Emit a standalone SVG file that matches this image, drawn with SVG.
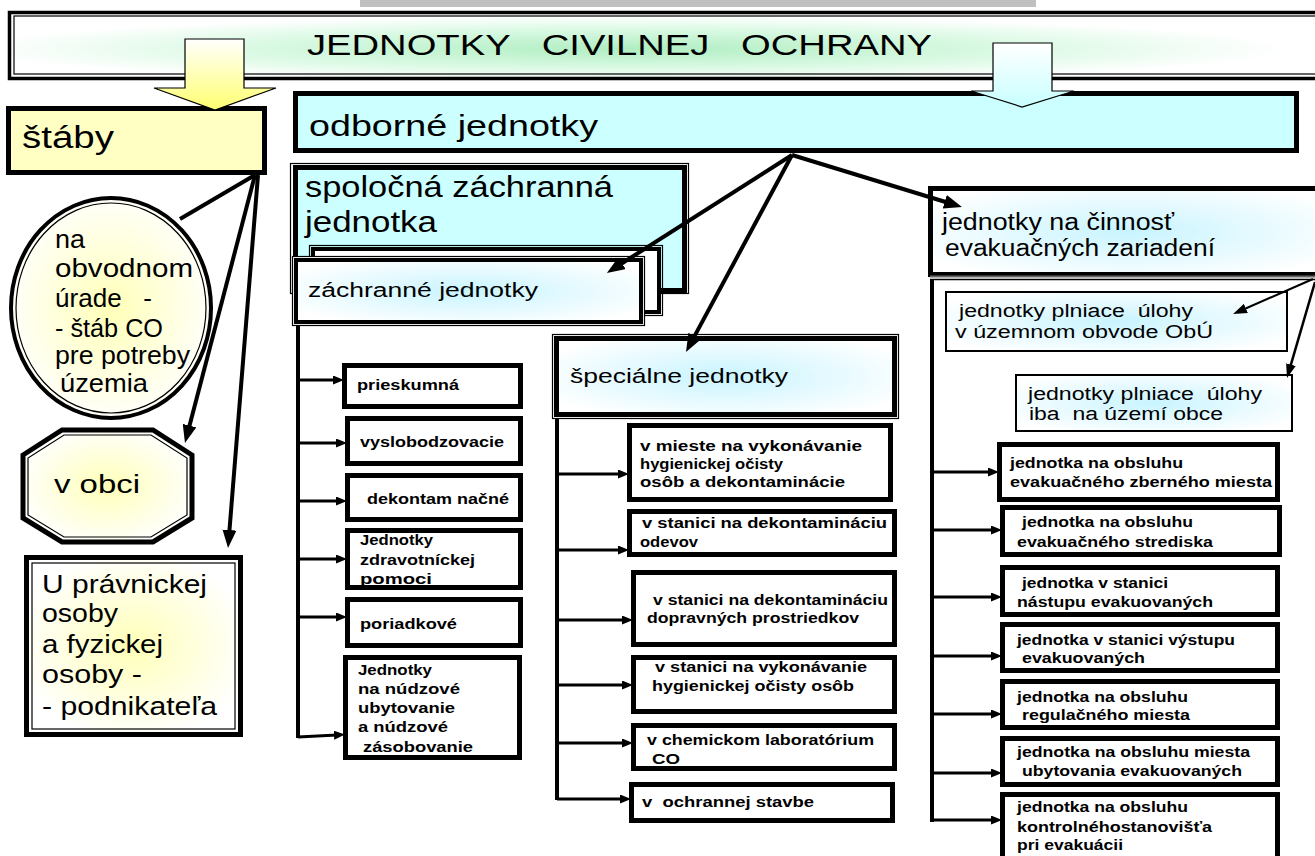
<svg xmlns="http://www.w3.org/2000/svg" width="1315" height="856" viewBox="0 0 1315 856">
<style>
text{font-family:"Liberation Sans",Arial,sans-serif;fill:#000}
.b{font-weight:bold;font-size:14px}
.r{font-weight:bold;font-size:15px}
.box{fill:#fff;stroke:#000;stroke-width:5}
.thin{fill:none;stroke:#000;stroke-width:1.2}
.ln{stroke:#000;stroke-width:4;fill:none}
.br{stroke:#000;stroke-width:3;fill:none;marker-end:url(#as)}
.big{marker-end:url(#ah)}
</style>
<defs>
<marker id="ah" markerUnits="userSpaceOnUse" markerWidth="18" markerHeight="14" refX="6" refY="7" orient="auto"><path d="M0,0 L18,7 L0,14 z" fill="#000"/></marker>
<marker id="am" markerUnits="userSpaceOnUse" markerWidth="14" markerHeight="10" refX="4" refY="5" orient="auto"><path d="M0,0 L14,5 L0,10 z" fill="#000"/></marker>
<marker id="as" markerUnits="userSpaceOnUse" markerWidth="11" markerHeight="9" refX="3" refY="4.5" orient="auto"><path d="M0,0 L11,4.5 L0,9 z" fill="#000"/></marker>
<radialGradient id="gTitle" cx="0.47" cy="0.55" r="0.5"><stop offset="0" stop-color="#b0eec2"/><stop offset="0.55" stop-color="#d8f9e2"/><stop offset="1" stop-color="#ffffff"/></radialGradient>
<radialGradient id="gYel" cx="0.5" cy="0.5" r="0.55"><stop offset="0" stop-color="#ffffb8"/><stop offset="1" stop-color="#ffffff"/></radialGradient>
<radialGradient id="gCy" cx="0.5" cy="0.5" r="0.6"><stop offset="0" stop-color="#c8f4ff"/><stop offset="1" stop-color="#ffffff"/></radialGradient>
<linearGradient id="gYA" x1="0" y1="0" x2="0" y2="1"><stop offset="0" stop-color="#ffffff"/><stop offset="1" stop-color="#ffff70"/></linearGradient>
<linearGradient id="gBA" x1="0" y1="0" x2="0" y2="1"><stop offset="0" stop-color="#ffffff"/><stop offset="1" stop-color="#c8ffff"/></linearGradient>
</defs>

<rect x="360" y="0" width="676" height="7" fill="#c0c0c0"/>

<g id="title">
<rect x="9.5" y="12.5" width="1320" height="66" fill="url(#gTitle)" stroke="#000" stroke-width="3.5"/>
<rect x="14" y="16" width="1310" height="58" class="thin"/>
<text x="307" y="55" font-size="30" textLength="625" lengthAdjust="spacingAndGlyphs" xml:space="preserve">JEDNOTKY   CIVILNEJ   OCHRANY</text>
</g>

<g id="staby">
<rect x="8.5" y="108.5" width="256" height="64" fill="#ffffc4" stroke="#000" stroke-width="5"/>
<text x="22" y="148" font-size="31" textLength="92" lengthAdjust="spacingAndGlyphs">štáby</text>
</g>
<polygon id="arrow-staby" points="185,39 244,39 244,88 276,88 215,110 154,88 185,88" fill="url(#gYA)" stroke="#000" stroke-width="1.2"/>

<g id="odborne">
<rect x="295.5" y="93.5" width="1001" height="57" fill="#ccffff" stroke="#000" stroke-width="5"/>
<text x="309" y="136" font-size="30" textLength="289" lengthAdjust="spacingAndGlyphs">odborné jednotky</text>
</g>
<polygon id="arrow-odborne" points="993,43 1052,43 1052,91 1074,91 1022,107 971,91 993,91" fill="url(#gBA)" stroke="#000" stroke-width="1.2"/>

<g id="obvodny">
<ellipse cx="111" cy="308" rx="100" ry="110" fill="url(#gYel)" stroke="#000" stroke-width="4"/>
<ellipse cx="111" cy="308" rx="95" ry="105" class="thin"/>
<text font-size="25">
<tspan x="55" y="248" textLength="30" lengthAdjust="spacingAndGlyphs">na</tspan>
<tspan x="55" y="277" textLength="138" lengthAdjust="spacingAndGlyphs">obvodnom</tspan>
</text>
<text x="55" y="307" font-size="25" textLength="97" lengthAdjust="spacingAndGlyphs" xml:space="preserve">úrade   -</text>
<text font-size="25">
<tspan x="55" y="337" textLength="108" lengthAdjust="spacingAndGlyphs">- štáb CO</tspan>
<tspan x="55" y="364" textLength="135" lengthAdjust="spacingAndGlyphs">pre potreby</tspan>
<tspan x="60" y="392" textLength="88" lengthAdjust="spacingAndGlyphs">územia</tspan>
</text>
</g>

<g id="obec">
<polygon points="62,430 153,430 192,455 192,518 153,542 62,542 23,518 23,455" fill="url(#gYel)" stroke="#000" stroke-width="5"/>
<polygon points="64,435 151,435 187,458 187,515 151,537 64,537 28,515 28,458" class="thin"/>
<text x="54" y="493" font-size="26" textLength="86" lengthAdjust="spacingAndGlyphs">v obci</text>
</g>

<g id="pravnicka">
<rect x="26.5" y="557.5" width="214" height="177" fill="url(#gYel)" stroke="#000" stroke-width="5"/>
<rect x="32" y="563" width="203" height="166" class="thin"/>
<text font-size="25">
<tspan x="42" y="593" textLength="165" lengthAdjust="spacingAndGlyphs">U právnickej</tspan>
<tspan x="42" y="622" textLength="76" lengthAdjust="spacingAndGlyphs">osoby</tspan>
<tspan x="42" y="653" textLength="121" lengthAdjust="spacingAndGlyphs">a fyzickej</tspan>
<tspan x="42" y="683" textLength="100" lengthAdjust="spacingAndGlyphs">osoby -</tspan>
<tspan x="42" y="715" textLength="175" lengthAdjust="spacingAndGlyphs">- podnikateľa</tspan>
</text>
</g>

<g id="spolocna">
<rect x="290.5" y="163.5" width="398" height="130" class="thin"/>
<rect x="295.5" y="167.5" width="389" height="123" fill="#ccffff" stroke="#000" stroke-width="5"/>
<text font-size="29">
<tspan x="305" y="197" textLength="308" lengthAdjust="spacingAndGlyphs">spoločná záchranná</tspan>
<tspan x="305" y="232" textLength="132" lengthAdjust="spacingAndGlyphs">jednotka</tspan>
</text>
</g>

<g id="zachranne">
<rect x="309.5" y="245.5" width="353" height="70" class="thin"/>
<rect x="313" y="249" width="346" height="63" fill="#fff" stroke="#000" stroke-width="4"/>
<rect x="292.5" y="256.5" width="352" height="69" fill="#fff" stroke="#000" stroke-width="1.2"/>
<rect x="296" y="260" width="345" height="62" fill="url(#gCy)" stroke="#000" stroke-width="4"/>
<text x="308" y="297" font-size="20" textLength="230" lengthAdjust="spacingAndGlyphs">záchranné jednotky</text>
</g>

<g id="z-prieskumna"><rect class="box" x="344.5" y="365.5" width="176" height="41"/>
<text class="b" x="357" y="390" textLength="102" lengthAdjust="spacingAndGlyphs">prieskumná</text></g>
<g id="z-vyslobodzovacie"><rect class="box" x="347.5" y="418.5" width="173" height="45"/>
<text class="b" x="360" y="447" textLength="144" lengthAdjust="spacingAndGlyphs">vyslobodzovacie</text></g>
<g id="z-dekontaminacne"><rect class="box" x="347.5" y="475.5" width="173" height="44"/>
<text class="b" x="367" y="504" textLength="142" lengthAdjust="spacingAndGlyphs">dekontam načné</text></g>
<g id="z-zdravotnicke"><rect class="box" x="347.5" y="530.5" width="173" height="57"/>
<text class="b"><tspan x="360" y="545" textLength="73" lengthAdjust="spacingAndGlyphs">Jednotky</tspan>
<tspan x="360" y="565" textLength="115" lengthAdjust="spacingAndGlyphs">zdravotníckej</tspan>
<tspan x="360" y="584" textLength="72" lengthAdjust="spacingAndGlyphs">pomoci</tspan></text></g>
<g id="z-poriadkove"><rect class="box" x="347.5" y="599.5" width="173" height="46"/>
<text class="b" x="360" y="629" textLength="97" lengthAdjust="spacingAndGlyphs">poriadkové</text></g>
<g id="z-nudzove"><rect class="box" x="345.5" y="657.5" width="174" height="100"/>
<text class="b"><tspan x="358" y="675" textLength="74" lengthAdjust="spacingAndGlyphs">Jednotky</tspan>
<tspan x="358" y="694" textLength="102" lengthAdjust="spacingAndGlyphs">na núdzové</tspan>
<tspan x="358" y="713" textLength="97" lengthAdjust="spacingAndGlyphs">ubytovanie</tspan>
<tspan x="358" y="732" textLength="90" lengthAdjust="spacingAndGlyphs">a núdzové</tspan>
<tspan x="363" y="752" textLength="110" lengthAdjust="spacingAndGlyphs">zásobovanie</tspan></text></g>

<g id="specialne">
<rect x="552.5" y="334.5" width="346" height="84" class="thin"/>
<rect x="556.5" y="338.5" width="338" height="76" fill="url(#gCy)" stroke="#000" stroke-width="5"/>
<text x="570" y="383" font-size="21" textLength="218" lengthAdjust="spacingAndGlyphs">špeciálne jednotky</text>
</g>

<g id="s-miesto"><rect class="box" x="629.5" y="425.5" width="261" height="74"/>
<text class="b"><tspan x="640" y="451" textLength="222" lengthAdjust="spacingAndGlyphs">v mieste na vykonávanie</tspan>
<tspan x="640" y="469" textLength="143" lengthAdjust="spacingAndGlyphs">hygienickej očisty</tspan>
<tspan x="640" y="487" textLength="205" lengthAdjust="spacingAndGlyphs">osôb a dekontaminácie</tspan></text></g>
<g id="s-odevov"><rect class="box" x="629.5" y="511.5" width="265" height="43"/>
<text class="b"><tspan x="642" y="528" textLength="245" lengthAdjust="spacingAndGlyphs">v stanici na dekontamináciu</tspan>
<tspan x="640" y="547" textLength="58" lengthAdjust="spacingAndGlyphs">odevov</tspan></text></g>
<g id="s-doprava"><rect class="box" x="633.5" y="572.5" width="261" height="72"/>
<text class="b"><tspan x="653" y="605" textLength="235" lengthAdjust="spacingAndGlyphs">v stanici na dekontamináciu</tspan>
<tspan x="647" y="623" textLength="212" lengthAdjust="spacingAndGlyphs">dopravných prostriedkov</tspan></text></g>
<g id="s-hygiena"><rect class="box" x="633.5" y="657.5" width="261" height="54"/>
<text class="b"><tspan x="655" y="672" textLength="212" lengthAdjust="spacingAndGlyphs">v stanici na vykonávanie</tspan>
<tspan x="652" y="691" textLength="202" lengthAdjust="spacingAndGlyphs">hygienickej očisty osôb</tspan></text></g>
<g id="s-laboratorium"><rect class="box" x="633.5" y="725.5" width="261" height="43"/>
<text class="b"><tspan x="647" y="745" textLength="227" lengthAdjust="spacingAndGlyphs">v chemickom laboratórium</tspan>
<tspan x="652" y="764" textLength="28" lengthAdjust="spacingAndGlyphs">CO</tspan></text></g>
<g id="s-stavba"><rect class="box" x="631.5" y="784.5" width="261" height="36"/>
<text class="b" x="642" y="807" textLength="172" lengthAdjust="spacingAndGlyphs" xml:space="preserve">v  ochrannej stavbe</text></g>

<g id="evakuacne">
<rect x="930.5" y="188.5" width="400" height="86" fill="url(#gCy)" stroke="#000" stroke-width="5"/>
<line x1="930" y1="276.5" x2="1315" y2="276.5" stroke="#666" stroke-width="2"/>
<line x1="930" y1="279.5" x2="1315" y2="279.5" stroke="#000" stroke-width="1.5"/>
<text font-size="23"><tspan x="942" y="230" textLength="232" lengthAdjust="spacingAndGlyphs">jednotky na činnosť</tspan>
<tspan x="945" y="256" textLength="270" lengthAdjust="spacingAndGlyphs">evakuačných zariadení</tspan></text>
</g>

<g id="e-obu"><rect x="946" y="292" width="341" height="59" fill="url(#gCy)" stroke="#000" stroke-width="2"/>
<text font-size="18"><tspan x="959" y="317" textLength="234" lengthAdjust="spacingAndGlyphs" xml:space="preserve">jednotky plniace  úlohy</tspan>
<tspan x="955" y="338" textLength="258" lengthAdjust="spacingAndGlyphs">v územnom obvode ObÚ</tspan></text></g>
<g id="e-obec"><rect x="1016" y="375" width="276" height="56" fill="url(#gCy)" stroke="#000" stroke-width="2"/>
<text font-size="18"><tspan x="1028" y="400" textLength="234" lengthAdjust="spacingAndGlyphs" xml:space="preserve">jednotky plniace  úlohy</tspan>
<tspan x="1029" y="420" textLength="194" lengthAdjust="spacingAndGlyphs" xml:space="preserve">iba  na území obce</tspan></text></g>

<g id="e-zberne"><rect class="box" x="999.5" y="444.5" width="278" height="55"/>
<text class="r"><tspan x="1010" y="468" textLength="173" lengthAdjust="spacingAndGlyphs">jednotka na obsluhu</tspan>
<tspan x="1010" y="487" textLength="262" lengthAdjust="spacingAndGlyphs">evakuačného zberného miesta</tspan></text></g>
<g id="e-stredisko"><rect class="box" x="1002.5" y="507.5" width="277" height="47"/>
<text class="r"><tspan x="1022" y="527" textLength="171" lengthAdjust="spacingAndGlyphs">jednotka na obsluhu</tspan>
<tspan x="1017" y="547" textLength="196" lengthAdjust="spacingAndGlyphs">evakuačného strediska</tspan></text></g>
<g id="e-nastup"><rect class="box" x="1002.5" y="567.5" width="275" height="47"/>
<text class="r"><tspan x="1022" y="588" textLength="146" lengthAdjust="spacingAndGlyphs">jednotka v stanici</tspan>
<tspan x="1017" y="607" textLength="196" lengthAdjust="spacingAndGlyphs">nástupu evakuovaných</tspan></text></g>
<g id="e-vystup"><rect class="box" x="1002.5" y="624.5" width="275" height="46"/>
<text class="r"><tspan x="1017" y="645" textLength="218" lengthAdjust="spacingAndGlyphs">jednotka v stanici výstupu</tspan>
<tspan x="1022" y="663" textLength="123" lengthAdjust="spacingAndGlyphs">evakuovaných</tspan></text></g>
<g id="e-regulacne"><rect class="box" x="1002.5" y="681.5" width="275" height="46"/>
<text class="r"><tspan x="1017" y="702" textLength="171" lengthAdjust="spacingAndGlyphs">jednotka na obsluhu</tspan>
<tspan x="1022" y="720" textLength="168" lengthAdjust="spacingAndGlyphs">regulačného miesta</tspan></text></g>
<g id="e-ubytovanie"><rect class="box" x="1002.5" y="738.5" width="275" height="46"/>
<text class="r"><tspan x="1017" y="757" textLength="233" lengthAdjust="spacingAndGlyphs">jednotka na obsluhu miesta</tspan>
<tspan x="1022" y="776" textLength="220" lengthAdjust="spacingAndGlyphs">ubytovania evakuovaných</tspan></text></g>
<g id="e-kontrolne"><rect class="box" x="1002.5" y="794.5" width="275" height="80"/>
<text class="r"><tspan x="1017" y="812" textLength="171" lengthAdjust="spacingAndGlyphs">jednotka na obsluhu</tspan>
<tspan x="1017" y="832" textLength="195" lengthAdjust="spacingAndGlyphs">kontrolnéhostanovišťa</tspan>
<tspan x="1017" y="850" textLength="106" lengthAdjust="spacingAndGlyphs">pri evakuácii</tspan></text></g>

<g id="connectors">
<line class="ln" x1="255" y1="175" x2="180" y2="219"/>
<line class="ln big" x1="255" y1="175" x2="188" y2="431.4"/>
<line class="ln big" x1="258" y1="175" x2="229" y2="536"/>
<line class="ln big" x1="792" y1="155" x2="617" y2="266.5"/>
<line class="ln big" x1="792" y1="155" x2="691.7" y2="341.4"/>
<line class="ln big" x1="792" y1="155" x2="950.5" y2="203.5"/>
<line x1="1313" y1="279" x2="1242.2" y2="310" stroke="#000" stroke-width="2" marker-end="url(#am)"/>
<line x1="1315" y1="282" x2="1289.8" y2="368.4" stroke="#000" stroke-width="2.5" marker-end="url(#am)"/>
<line class="ln" x1="298" y1="325" x2="298" y2="738"/>
<line class="br" x1="298" y1="380" x2="336" y2="380"/>
<line class="br" x1="298" y1="443" x2="339" y2="443"/>
<line class="br" x1="298" y1="501" x2="339" y2="501"/>
<line class="br" x1="298" y1="559" x2="339" y2="559"/>
<line class="br" x1="298" y1="617" x2="339" y2="617"/>
<line class="br" x1="298" y1="737" x2="337" y2="735"/>
<line class="ln" x1="557" y1="418" x2="557" y2="800"/>
<line class="br" x1="557" y1="474" x2="621" y2="474"/>
<line class="br" x1="557" y1="550" x2="621" y2="550"/>
<line class="br" x1="557" y1="620" x2="625" y2="620"/>
<line class="br" x1="557" y1="685" x2="625" y2="685"/>
<line class="br" x1="557" y1="743" x2="625" y2="743"/>
<line class="br" x1="557" y1="799" x2="623" y2="799"/>
<line class="ln" x1="932" y1="279" x2="932" y2="822"/>
<line class="br" x1="932" y1="472" x2="991" y2="472"/>
<line class="br" x1="932" y1="530" x2="994" y2="530"/>
<line class="br" x1="932" y1="597" x2="994" y2="597"/>
<line class="br" x1="932" y1="656" x2="994" y2="656"/>
<line class="br" x1="932" y1="714" x2="994" y2="714"/>
<line class="br" x1="932" y1="773" x2="994" y2="773"/>
<line class="br" x1="932" y1="820" x2="994" y2="820"/>
</g>
</svg>
